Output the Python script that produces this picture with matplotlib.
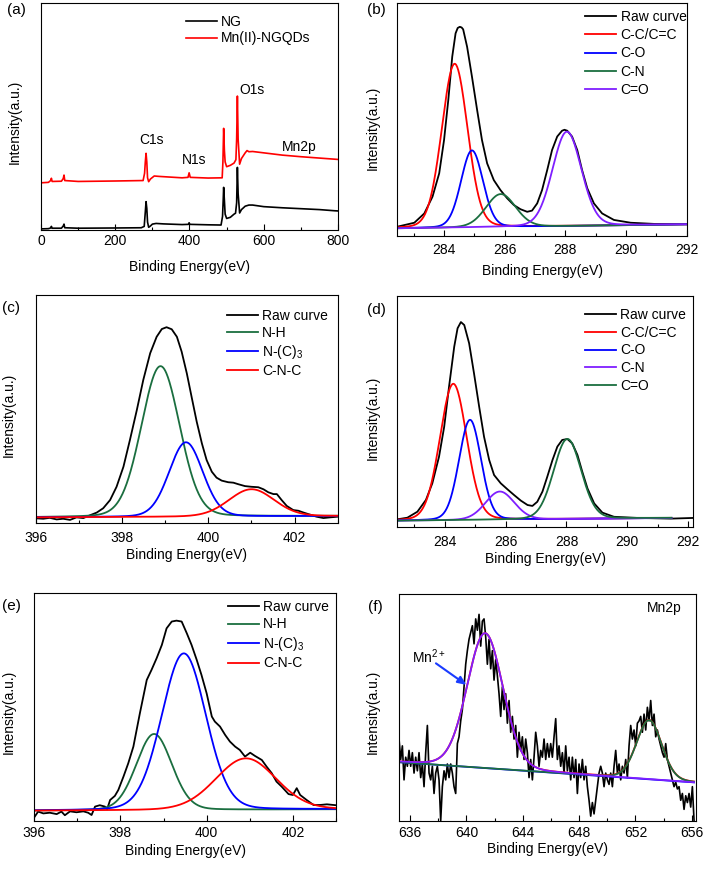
import numpy as np
import matplotlib
matplotlib.use('Agg')
from matplotlib import pyplot as plt
from matplotlib.ticker import MultipleLocator

plt.rcParams['font.family'] = ['Liberation Sans', 'DejaVu Sans']
plt.rcParams['mathtext.fontset'] = 'custom'
plt.rcParams['mathtext.rm'] = 'Liberation Sans'
plt.rcParams['mathtext.it'] = 'Liberation Sans:italic'
plt.rcParams['font.size'] = 10

RED = '#ff0000'
BLUE = '#0000ff'
GREEN = '#1a6e3f'
VIOLET = '#7f1fff'

# ---- (a) survey spectra (intensity in % of axis height)
a_ng_e = [0, 20, 26, 28, 30, 55, 60, 62, 64, 100, 200, 270, 278, 281, 283, 285, 287, 290,
          295, 300, 310, 330, 380, 397, 399, 401, 450, 485, 489, 491, 492, 494, 496, 500,
          510, 520, 524, 527, 529, 531, 535, 540, 550, 560, 570, 600, 650, 700, 750, 790, 800]
a_ng_i = [0.5, 0.6, 0.9, 1.6, 0.8, 0.8, 1.8, 2.6, 1.0, 0.8, 0.9, 1.0, 1.6, 8.0, 12.5, 9.5, 3.5, 1.2,
          1.8, 2.6, 2.9, 2.7, 2.4, 2.5, 3.2, 2.5, 2.3, 2.2, 6.0, 14.0, 18.8, 13.0, 7.0, 5.1,
          5.6, 7.0, 7.4, 12.0, 27.6, 16.0, 7.5, 9.0, 10.5, 11.0, 11.0, 10.3, 9.8, 9.4, 9.0, 8.5, 8.4]
a_mn_e = [0, 20, 26, 28, 30, 55, 60, 62, 64, 100, 200, 275, 279, 281, 283, 285, 287, 290,
          295, 305, 320, 380, 396, 399, 402, 450, 488, 490, 492, 494, 496, 500, 510, 520,
          525, 527, 529, 531, 535, 540, 550, 555, 560, 570, 600, 650, 700, 750, 800]
a_mn_i = [20.8, 21.0, 21.8, 22.8, 21.4, 21.5, 22.7, 24.2, 21.8, 21.4, 21.6, 21.8, 25.0, 30.0, 33.8, 30.0, 23.0, 21.3,
          22.5, 23.8, 23.6, 23.0, 23.2, 25.2, 23.2, 22.9, 23.0, 30.0, 44.8, 35.0, 30.0, 27.9, 28.5, 29.5,
          31.0, 40.0, 59.0, 40.0, 29.0, 31.5, 34.0, 35.0, 34.5, 34.6, 34.0, 33.0, 32.3, 31.7, 31.1]
a_peaks = ['C1s', 'N1s', 'O1s', 'Mn2p']
a_peak_e = [297, 413, 568, 695]
a_peak_i = [39.5, 30.7, 61.5, 36.6]

# ---- (b) C1s of NG
b_raw_e = [282.46, 283.02, 283.35, 283.62, 283.84, 284.00, 284.14, 284.27, 284.38, 284.45, 284.52,
           284.58, 284.63, 284.76, 284.92, 285.09, 285.25, 285.42, 285.64, 285.86, 286.08, 286.30,
           286.52, 286.74, 286.90, 287.07, 287.23, 287.40, 287.56, 287.73, 287.89, 287.97, 288.06,
           288.22, 288.39, 288.55, 288.72, 288.94, 289.21, 289.60, 290.15, 290.92, 292.00]
b_raw_i = [4.0, 5.7, 9.7, 16.9, 26.9, 41.2, 58.4, 77.0, 87.0, 89.3, 89.8,
           89.5, 88.7, 81.2, 68.4, 54.1, 41.2, 31.2, 24.0, 19.7, 16.2, 13.3,
           11.5, 10.4, 10.9, 14.0, 19.7, 28.3, 36.9, 42.7, 45.2, 45.6, 45.2,
           42.7, 36.9, 28.3, 20.5, 14.0, 9.7, 6.9, 5.7, 5.2, 5.2]
b_names = ['C-C/C=C', 'C-O', 'C-N', 'C=O']
b_colors = [RED, BLUE, GREEN, VIOLET]
b_center = [284.35, 284.92, 285.87, 288.05]
b_height = [70.3, 33.0, 14.1, 40.5]
b_fwhm = [1.00, 0.85, 1.15, 1.12]
b_bg = [3.3, 5.0]

# ---- (c) N1s of NG
c_raw_e = [396.0, 396.17, 396.32, 396.48, 396.63, 396.79, 396.94, 397.10, 397.25, 397.41,
           397.56, 397.72, 397.87, 398.03, 398.18, 398.34, 398.49, 398.65, 398.80, 398.92,
           399.03, 399.15, 399.27, 399.38, 399.50, 399.61, 399.73, 399.85, 399.96, 400.08,
           400.19, 400.31, 400.46, 400.58, 400.70, 400.85, 401.0, 401.16, 401.28, 401.39,
           401.51, 401.59, 401.70, 401.82, 401.97, 402.09, 402.21, 402.36, 402.51, 402.67,
           402.82, 403.0]
c_raw_i = [2.2, 2.0, 2.4, 1.7, 2.0, 1.5, 2.6, 2.3, 3.5, 4.7,
           6.6, 10.2, 16.0, 24.8, 36.5, 49.6, 62.8, 74.5, 81.7, 85.1,
           85.9, 85.0, 81.7, 75.2, 65.7, 55.5, 44.5, 35.0, 27.7, 22.6,
           20.0, 18.7, 18.0, 17.8, 17.1, 16.3, 16.0, 15.8, 14.9, 13.6,
           12.8, 12.8, 10.2, 7.6, 5.8, 5.5, 4.7, 3.8, 2.9, 2.3,
           2.6, 2.9]
c_names = ['N-H', 'N-(C)$_3$', 'C-N-C']
c_colors = [GREEN, BLUE, RED]
c_center = [398.89, 399.48, 401.0]
c_height = [66.0, 32.6, 11.9]
c_fwhm = [1.05, 0.92, 1.24]
c_bg = [2.6, 3.2]

# ---- (d) C1s of Mn(II)-NGQDs
d_raw_e = [282.44, 282.77, 283.10, 283.38, 283.59, 283.81, 283.98, 284.14, 284.31, 284.42, 284.53,
           284.64, 284.80, 284.96, 285.13, 285.29, 285.46, 285.62, 285.84, 286.06, 286.28, 286.50,
           286.72, 286.88, 287.04, 287.21, 287.37, 287.54, 287.70, 287.86, 288.03, 288.19, 288.36,
           288.52, 288.69, 288.91, 289.18, 289.56, 290.33, 291.43, 292.17]
d_raw_i = [3.2, 3.9, 6.5, 11.6, 18.8, 30.3, 43.3, 60.7, 78.0, 86.0, 88.7,
           87.4, 79.5, 66.5, 52.0, 39.0, 28.9, 22.4, 18.8, 16.2, 13.7, 11.3,
           9.4, 9.0, 10.8, 15.2, 21.7, 28.9, 34.7, 37.6, 38.0, 36.1, 31.1,
           23.8, 16.6, 10.1, 6.1, 4.3, 3.8, 3.5, 3.8]
d_names = ['C-C/C=C', 'C-O', 'C-N', 'C=O']
d_colors = [RED, BLUE, VIOLET, GREEN]
d_center = [284.28, 284.83, 285.81, 288.03]
d_height = [59.1, 43.4, 12.2, 34.7]
d_fwhm = [1.04, 0.85, 1.12, 1.07]
d_bg = [2.6, 3.8]

# ---- (e) N1s of Mn(II)-NGQDs
e_raw_e = [396.0, 396.09, 396.21, 396.36, 396.52, 396.63, 396.71, 396.83, 396.98, 397.14,
           397.25, 397.33, 397.41, 397.52, 397.64, 397.69, 397.76, 397.87, 397.95, 398.07,
           398.18, 398.30, 398.45, 398.61, 398.72, 398.84, 398.96, 399.07, 399.19, 399.30,
           399.42, 399.54, 399.65, 399.77, 399.88, 400.0, 400.12, 400.19, 400.31, 400.43,
           400.54, 400.66, 400.77, 400.89, 401.01, 401.12, 401.28, 401.39, 401.51, 401.62,
           401.74, 401.90, 402.0, 402.09, 402.17, 402.32, 402.48, 402.63, 402.79, 403.0]
e_raw_i = [1.5, 4.0, 3.2, 3.5, 2.9, 4.0, 2.4, 4.1, 3.7, 4.1,
           3.5, 2.5, 6.2, 6.8, 6.2, 5.0, 9.1, 10.9, 13.5, 19.4,
           25.2, 32.6, 47.2, 61.9, 66.3, 71.5, 77.3, 84.6, 87.6, 88.0,
           87.6, 82.4, 77.3, 70.7, 64.1, 56.0, 45.8, 43.6, 41.4, 37.7,
           34.8, 32.6, 31.1, 28.2, 29.9, 28.5, 26.7, 23.8, 20.9, 17.2,
           15.0, 11.7, 11.3, 14.3, 11.3, 9.1, 6.9, 6.9, 7.2, 6.8]
e_names = ['N-H', 'N-(C)$_3$', 'C-N-C']
e_colors = [GREEN, BLUE, RED]
e_center = [398.78, 399.47, 400.91]
e_height = [33.5, 68.9, 22.6]
e_fwhm = [0.97, 1.21, 1.65]
e_bg = [4.4, 5.0]

# ---- (f) Mn2p, raw counts on a 0.1183 eV step from 635.22 eV
f_start, f_step = 635.22, 0.1183
f_raw_i = [36, 27, 33, 18, 28, 24, 31, 24, 30, 21,
           28, 22, 30, 19, 25, 15, 30, 42, 21, 18,
           24, 12, 21, 24, 18, 0, 15, 22, 18, 25,
           19, 25, 21, 15, 12, 34, 37, 44, 49, 59,
           69, 75, 80, 83, 86, 78, 89, 84, 91, 77,
           88, 89, 81, 69, 80, 67, 75, 62, 71, 64,
           56, 46, 59, 49, 56, 43, 53, 39, 46, 36,
           42, 28, 39, 31, 37, 27, 36, 30, 19, 27,
           18, 28, 39, 33, 24, 31, 28, 36, 27, 34,
           28, 34, 28, 37, 45, 27, 33, 24, 30, 21,
           33, 22, 28, 18, 28, 19, 27, 12, 25, 19,
           27, 18, 24, 15, 9, 2, 8, 3, 9, 15,
           21, 24, 21, 15, 21, 18, 16, 21, 15, 24,
           31, 21, 25, 18, 24, 21, 27, 19, 33, 42,
           36, 40, 33, 43, 44, 46, 39, 47, 40, 50,
           44, 53, 42, 47, 37, 40, 36, 33, 30, 28,
           34, 27, 24, 21, 18, 15, 17, 14, 15, 9,
           12, 5, 11, 8, 12, 6, 15, 0]
f_center = [641.33, 652.97]
f_height = [59.5, 26.1]
f_fwhm = [3.0, 2.1]
f_bg = [25.8, 16.9]


def peak(x, c, h, w, eta=0.1):
    u = (x - c) / w
    return h * ((1 - eta) * np.exp(-4 * np.log(2) * u ** 2) + eta / (1 + 4 * u ** 2))


def style(ax, xlim, major, minor, pad):
    ax.set_xlim(*xlim)
    ax.set_ylim(0, 100)
    ax.xaxis.set_major_locator(MultipleLocator(major))
    ax.xaxis.set_minor_locator(MultipleLocator(minor))
    ax.tick_params(axis='x', which='major', direction='in', length=4, width=0.8,
                   pad=pad, labelsize=10)
    ax.tick_params(axis='x', which='minor', direction='in', length=2.5, width=0.8)
    ax.set_yticks([])
    for s in ax.spines.values():
        s.set_linewidth(0.8)


def labels(ax, xl_y, yl_x, yl_y):
    ax.set_xlabel('Binding Energy(eV)', fontsize=10)
    ax.xaxis.set_label_coords(0.5, xl_y)
    ax.set_ylabel('Intensity(a.u.)', fontsize=10)
    ax.yaxis.set_label_coords(yl_x, yl_y)


def legend(ax, x, y, spacing):
    ax.legend(loc='upper left', bbox_to_anchor=(x, y), frameon=False, fontsize=10,
              handlelength=2.25, handletextpad=0.3, labelspacing=spacing,
              borderpad=0, borderaxespad=0)


def fitted(ax, raw_e, raw_i, names, colors, center, height, fwhm, bg, xr):
    ax.plot(raw_e, raw_i, color='k', lw=1.3, label='Raw curve')
    x = np.linspace(xr[0], xr[1], 600)
    base = np.interp(x, xr, bg)
    for n, col, c, h, w in zip(names, colors, center, height, fwhm):
        ax.plot(x, base + peak(x, c, h, w), color=col, lw=1.3, label=n)


fig = plt.figure(figsize=(7.08, 8.69), dpi=100)

ax_a = fig.add_axes([0.0579, 0.7353, 0.4195, 0.2612])
ax_b = fig.add_axes([0.5612, 0.7284, 0.4088, 0.2681])
ax_c = fig.add_axes([0.0508, 0.3978, 0.4261, 0.2627])
ax_d = fig.add_axes([0.5612, 0.3939, 0.4181, 0.2655])
ax_e = fig.add_axes([0.0484, 0.0556, 0.4261, 0.2616])
ax_f = fig.add_axes([0.5636, 0.0556, 0.4191, 0.2609])

# (a)
ax_a.plot(a_ng_e, a_ng_i, color='k', lw=1.2, label='NG')
ax_a.plot(a_mn_e, a_mn_i, color=RED, lw=1.2, label='Mn(II)-NGQDs')
for t, x, y in zip(a_peaks, a_peak_e, a_peak_i):
    ax_a.text(x, y, t, ha='center', va='center', fontsize=10)
style(ax_a, (0, 800), 200, 100, 3.2)
labels(ax_a, -0.134, -0.066, 0.477)
legend(ax_a, 0.488, 0.946, 0.15)

# (b)
fitted(ax_b, b_raw_e, b_raw_i, b_names, b_colors, b_center, b_height, b_fwhm, b_bg, (282.46, 292.0))
style(ax_b, (282.46, 292.0), 2, 1, 5.0)
labels(ax_b, -0.122, -0.061, 0.466)
legend(ax_b, 0.649, 0.970, 0.3)

# (c)
fitted(ax_c, c_raw_e, c_raw_i, c_names, c_colors, c_center, c_height, c_fwhm, c_bg, (396.0, 403.0))
style(ax_c, (396.0, 403.0), 2, 1, 5.4)
labels(ax_c, -0.106, -0.066, 0.474)
legend(ax_c, 0.633, 0.939, 0.22)

# (d)
fitted(ax_d, d_raw_e, d_raw_i, d_names, d_colors, d_center, d_height, d_fwhm, d_bg, (282.44, 291.45))
style(ax_d, (282.44, 292.17), 2, 1, 6.1)
labels(ax_d, -0.111, -0.059, 0.470)
legend(ax_d, 0.634, 0.948, 0.27)

# (e)
fitted(ax_e, e_raw_e, e_raw_i, e_names, e_colors, e_center, e_height, e_fwhm, e_bg, (396.0, 403.0))
style(ax_e, (396.0, 403.0), 2, 1, 4.0)
labels(ax_e, -0.104, -0.062, 0.48)
legend(ax_e, 0.642, 0.971, 0.25)

# (f)
f_e = f_start + f_step * np.arange(len(f_raw_i))
ax_f.plot(f_e, f_raw_i, color='k', lw=1.2)
xf = np.linspace(f_e[0], f_e[-1], 600)
base_f = np.interp(xf, [f_e[0], f_e[-1]], f_bg)
p1 = peak(xf, f_center[0], f_height[0], f_fwhm[0])
p2 = peak(xf, f_center[1], f_height[1], f_fwhm[1])
ax_f.plot(xf, base_f + p1 + p2, color=RED, lw=1.3)
ax_f.plot(xf, base_f, color=BLUE, lw=1.3)
ax_f.plot(xf, base_f + p2, color=GREEN, lw=1.3)
ax_f.plot(xf, base_f + p1, color=VIOLET, lw=1.3)
ax_f.text(655.25, 93.8, 'Mn2p', ha='right', va='center', fontsize=10)
ax_f.text(636.16, 72.3, 'Mn$^{2+}$', ha='left', va='center', fontsize=10)
ax_f.annotate('', xy=(640.0, 59.9), xytext=(637.84, 69.4),
              arrowprops=dict(arrowstyle='-|>,head_length=0.5,head_width=0.22',
                              color='#1a3cff', lw=1.5, shrinkA=0, shrinkB=0))
style(ax_f, (635.22, 656.28), 4, 2, 4.0)
labels(ax_f, -0.096, -0.065, 0.481)

# panel letters
for t, x, y in [('(a)', 16, 10), ('(b)', 376, 10), ('(c)', 11, 308),
                ('(d)', 376, 310), ('(e)', 11, 606), ('(f)', 375, 607)]:
    fig.text(x / 708, 1 - y / 869, t, ha='center', va='center', fontsize=11)

fig.savefig('out.png', dpi=100)
